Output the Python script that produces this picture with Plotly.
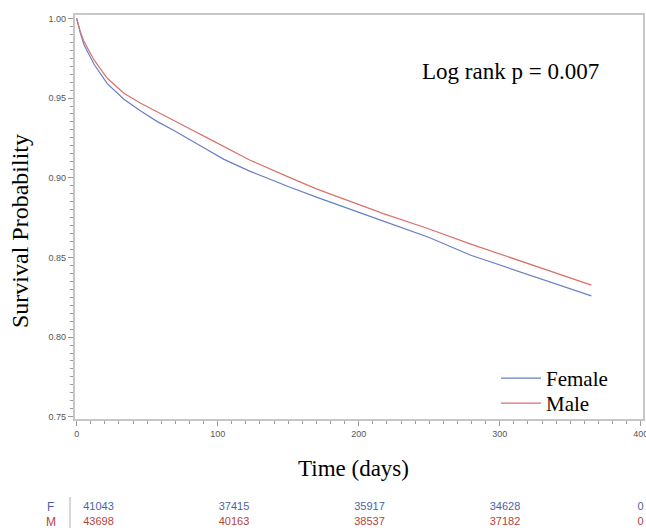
import plotly.graph_objects as go

# Kaplan-Meier survival estimates
time_days = [0, 2.5, 5.2, 12.3, 21.7, 33.5, 45.4, 57.2, 69, 80.8, 92.6, 104.5,
             123, 150, 170, 217.5, 250, 279, 300, 330, 365]
female_surv = [1.0, 0.991, 0.9834, 0.9712, 0.9590, 0.9492, 0.9418, 0.9352, 0.9296,
               0.9234, 0.9176, 0.9115, 0.9040, 0.8945, 0.8878, 0.8728, 0.8625,
               0.8515, 0.8452, 0.8360, 0.8259]
male_surv = [1.0, 0.992, 0.9854, 0.9739, 0.9624, 0.9530, 0.9467, 0.9411, 0.9356,
             0.9304, 0.9250, 0.9197, 0.9110, 0.9005, 0.8930, 0.8775, 0.8678,
             0.8585, 0.8522, 0.8430, 0.8326]

# Numbers at risk
risk_times = [0, 100, 200, 300, 400]
female_at_risk = [41043, 37415, 35917, 34628, 0]
male_at_risk = [43698, 40163, 38537, 37182, 0]

y_ticks = [0.75, 0.80, 0.85, 0.90, 0.95, 1.00]
y_tick_labels = ["0.75", "0.80", "0.85", "0.90", "0.95", "1.00"]
x_ticks = [0, 100, 200, 300, 400]

F_LINE = "#6a7fc4"
M_LINE = "#d9716b"
F_TEXT = "#4e5fa8"
M_TEXT = "#b5443a"
SERIF = "Liberation Serif, Times New Roman, serif"
SANS = "Liberation Sans, Arial, sans-serif"

W, H = 646, 530

fig = go.Figure()
fig.add_trace(go.Scatter(x=time_days, y=female_surv, mode="lines", name="Female",
                         line=dict(color=F_LINE, width=1.2), legend="legend"))
fig.add_trace(go.Scatter(x=time_days, y=male_surv, mode="lines", name="Male",
                         line=dict(color=M_LINE, width=1.2), legend="legend2"))

# at-risk table on its own axes
fig.add_trace(go.Scatter(x=risk_times, y=["F"] * len(risk_times), mode="text",
                         text=[str(v) for v in female_at_risk],
                         textfont=dict(color=F_TEXT, size=11, family=SANS),
                         xaxis="x2", yaxis="y2", showlegend=False, hoverinfo="skip"))
fig.add_trace(go.Scatter(x=risk_times, y=["M"] * len(risk_times), mode="text",
                         text=[str(v) for v in male_at_risk],
                         textfont=dict(color=M_TEXT, size=11, family=SANS),
                         xaxis="x2", yaxis="y2", showlegend=False, hoverinfo="skip"))

axis_line = "#c6c6c6"
tick_col = "#9a9a9a"

legend_style = dict(xanchor="left", yanchor="top",
                    font=dict(family=SERIF, size=21, color="black"),
                    bgcolor="rgba(0,0,0,0)", borderwidth=0, itemwidth=40)

fig.update_layout(
    width=W, height=H,
    margin=dict(l=0, r=0, t=0, b=0, autoexpand=False),
    paper_bgcolor="white", plot_bgcolor="white",
    xaxis=dict(domain=[74.7 / W, 642.7 / W], range=[-1.4, 401.4],
               tickvals=x_ticks, ticktext=[str(v) for v in x_ticks],
               showgrid=False, zeroline=False, showline=True, mirror=True,
               linecolor=axis_line, linewidth=1.5,
               ticks="outside", ticklen=5, tickcolor=tick_col,
               tickfont=dict(size=9, color="#555555", family=SANS),
               ticklabeloverflow="allow", automargin=False,
               minor=dict(dtick=10, tick0=0, ticks="outside", ticklen=3, tickcolor=tick_col),
               anchor="y"),
    yaxis=dict(domain=[1 - 419 / H, 1 - 15 / H], range=[0.7486, 1.0021],
               tickvals=y_ticks, ticktext=y_tick_labels,
               showgrid=False, zeroline=False, showline=True, mirror=True,
               linecolor=axis_line, linewidth=1.5,
               ticks="outside", ticklen=5, tickcolor=tick_col,
               tickfont=dict(size=9, color="#555555", family=SANS),
               ticklabeloverflow="allow", automargin=False,
               minor=dict(dtick=0.005, tick0=0.75, ticks="outside", ticklen=3, tickcolor=tick_col),
               anchor="x"),
    xaxis2=dict(domain=[0, 1], range=[-72.7, 404.1], visible=False, anchor="y2",
                fixedrange=True, automargin=False),
    yaxis2=dict(domain=[0.5 / H, 30.5 / H], range=[-0.5, 1.5], type="category",
                categoryorder="array", categoryarray=["M", "F"], visible=False,
                anchor="x2", fixedrange=True, automargin=False),
    showlegend=True,
    legend=dict(x=496 / W, y=1 - 358 / H, **legend_style),
    legend2=dict(x=496 / W, y=1 - 383 / H, **legend_style),
    annotations=[
        dict(text="Log rank p = 0.007", x=420 / W, y=1 - 72 / H, xref="paper", yref="paper",
             xanchor="left", yanchor="middle", showarrow=False,
             font=dict(family=SERIF, size=23, color="black")),
        dict(text="Survival Probability", x=20 / W, y=1 - 231 / H, xref="paper", yref="paper",
             xanchor="center", yanchor="middle", textangle=-90, showarrow=False,
             font=dict(family=SERIF, size=24, color="black")),
        dict(text="Time (days)", x=353 / W, y=1 - 468 / H, xref="paper", yref="paper",
             xanchor="center", yanchor="middle", showarrow=False,
             font=dict(family=SERIF, size=23, color="black")),
        dict(text="F", x=56 / W, y="F", xref="paper", yref="y2",
             xanchor="right", yanchor="middle", showarrow=False,
             font=dict(family=SANS, size=12, color=F_TEXT)),
        dict(text="M", x=58 / W, y="M", xref="paper", yref="y2",
             xanchor="right", yanchor="middle", showarrow=False,
             font=dict(family=SANS, size=12, color=M_TEXT)),
    ],
    shapes=[
        dict(type="line", xref="paper", yref="paper", x0=70 / W, x1=70 / W,
             y0=1 - 528 / H, y1=1 - 497 / H, line=dict(color="#b0b0b0", width=1)),
    ],
)

fig.write_html("out.html")
